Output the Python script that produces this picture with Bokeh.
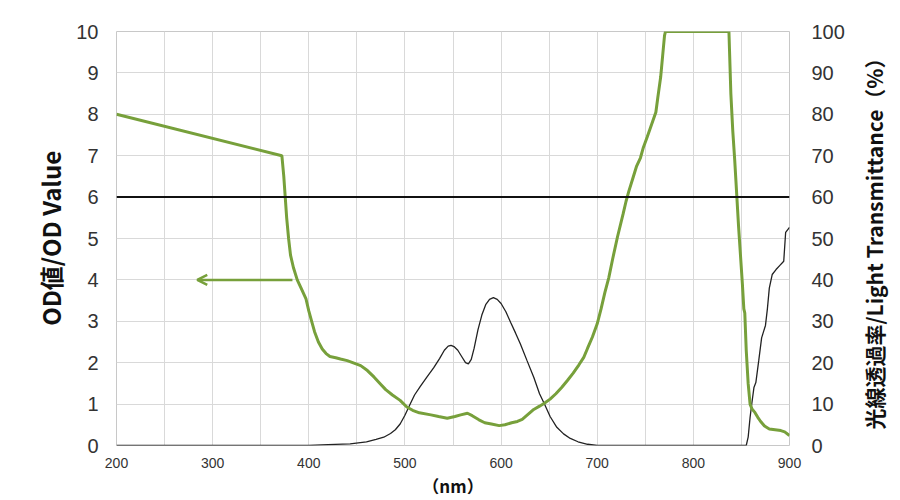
import math
from bokeh.plotting import figure
from bokeh.layouts import row
from bokeh.models import Range1d, LinearAxis, FixedTicker, Span, Arrow, OpenHead, Label
from bokeh.embed import file_html
from bokeh.resources import INLINE

# OD curve (left axis)
od_nm = [200, 372, 374, 375.5, 377, 379, 381, 384, 388, 392, 397, 400, 403, 406, 410, 414, 418, 422, 428,
         433, 440, 447, 454, 461, 468, 474, 480, 487, 495, 502, 508, 515, 527, 535, 544, 552, 558, 565,
         570, 577, 583, 590, 598, 604, 611, 617, 622, 628, 634, 640, 645, 651, 657, 663, 669, 675, 681,
         686, 690, 695, 700, 704, 708, 712, 716, 721, 727, 730, 733, 737, 741, 745, 748, 752, 755, 758,
         761, 763, 766, 768, 770, 771, 837, 839, 841, 843, 845, 847, 849, 851, 852.5, 853.5, 855, 857,
         859, 861, 864, 867, 870, 874, 879, 885, 891, 895, 900]
od_val = [8.0, 7.0, 6.5, 6.0, 5.5, 5.0, 4.6, 4.3, 4.0, 3.8, 3.55, 3.25, 3.0, 2.75, 2.5, 2.33, 2.22, 2.15, 2.12,
          2.09, 2.05, 1.99, 1.93, 1.81, 1.65, 1.5, 1.35, 1.22, 1.09, 0.93, 0.85, 0.79, 0.74, 0.70, 0.66, 0.70, 0.74, 0.78,
          0.72, 0.62, 0.55, 0.52, 0.48, 0.50, 0.55, 0.58, 0.63, 0.75, 0.87, 0.95, 1.02, 1.12, 1.25, 1.40, 1.57, 1.75, 1.95,
          2.13, 2.35, 2.62, 2.94, 3.3, 3.7, 4.05, 4.5, 5.03, 5.6, 5.9, 6.15, 6.45, 6.75, 6.95, 7.2, 7.45, 7.65, 7.85,
          8.05, 8.4, 8.9, 9.4, 9.9, 10.0, 10.0, 8.5, 7.6, 6.9, 6.1, 5.3, 4.6, 3.9, 3.3, 3.2, 2.3, 1.5,
          1.0, 0.88, 0.80, 0.68, 0.58, 0.47, 0.40, 0.38, 0.36, 0.33, 0.24]

# Light transmittance curve (right axis, %)
tr_nm = [200, 400, 420, 443, 460, 470, 478, 485, 490, 495, 500, 505, 510, 516, 523, 530, 536, 541, 545, 548,
         551, 555, 559, 563, 566, 569, 572, 576, 580, 584, 588, 592, 596, 600, 605, 610, 615, 620, 627, 634,
         640, 645, 651, 658, 665, 672, 680, 690, 700, 855, 857, 859, 861, 863, 865, 868, 871, 873, 875, 877,
         879, 882, 886, 890, 894, 896, 900]
tr_val = [0, 0, 0.2, 0.4, 0.9, 1.5, 2.0, 2.9, 3.8, 5.2, 7.3, 9.8, 12.2, 14.3, 16.6, 18.8, 21.0, 23.0, 24.0, 24.2,
          23.9, 23.0, 21.5, 20.0, 19.7, 20.8, 23.5, 28.0, 31.5, 34.0, 35.3, 35.7, 35.3, 34.3, 32.3, 29.7, 27.2, 24.6, 20.5, 16.5,
          12.5, 10.1, 7.0, 4.4, 2.8, 1.7, 0.9, 0.3, 0, 0, 2.0, 6.8, 10.5, 14.0, 15.2, 20.5, 26.0, 27.5, 29.0, 33.0,
          38.0, 41.3, 42.5, 43.5, 44.5, 51.5, 52.7]

x_ticks = [200, 300, 400, 500, 600, 700, 800, 900]
x_grid = [250, 300, 350, 400, 450, 500, 550, 600, 650, 700, 750, 800, 850]
od_ticks = list(range(0, 11))
tr_ticks = list(range(0, 101, 10))
od_limit = 6
arrow_x = [383, 284]
arrow_y = 4

left_title = "OD値/OD Value"
right_title = "光線透過率/Light Transmittance（%）"
x_title = "（nm）"

FONT = "Liberation Sans, Arial, Noto Sans CJK JP"
TITLE_FONT = "Noto Sans CJK JP"
GREEN = "#77a03b"

p = figure(frame_width=673, frame_height=414, output_backend="svg", toolbar_location=None,
           x_range=Range1d(200, 900), y_range=Range1d(0, 10),
           min_border_left=116, min_border_right=60, min_border_top=31, min_border_bottom=50)
p.background_fill_color = "white"
p.outline_line_color = "#c8c8c8"
p.outline_line_width = 1

p.extra_y_ranges = {"tr": Range1d(0, 100)}

# grids
p.xgrid.ticker = FixedTicker(ticks=x_grid)
p.ygrid.ticker = FixedTicker(ticks=od_ticks)
for g in (p.xgrid, p.ygrid):
    g.grid_line_color = "#d9d9d9"
    g.grid_line_width = 1

# axes
p.xaxis.ticker = FixedTicker(ticks=x_ticks)
p.yaxis.ticker = FixedTicker(ticks=od_ticks)
p.xaxis.axis_label = x_title
p.yaxis.axis_label = left_title

right = LinearAxis(y_range_name="tr", ticker=FixedTicker(ticks=tr_ticks))
p.add_layout(right, "right")

for ax in (p.xaxis[0], p.yaxis[0], right):
    ax.axis_line_color = None
    ax.major_tick_line_color = None
    ax.minor_tick_line_color = None
    ax.major_label_text_font = FONT
    ax.major_label_text_color = "#333333"
    ax.axis_label_text_font = TITLE_FONT
    ax.axis_label_text_font_style = "bold"
    ax.axis_label_text_color = "#111111"

p.xaxis.major_label_text_font_size = "14px"
p.xaxis.major_label_standoff = 6
p.xaxis.axis_label_text_font_size = "17px"
p.xaxis.axis_label_standoff = 2
p.yaxis.major_label_text_font_size = "20px"
p.yaxis.major_label_standoff = 12
p.yaxis.axis_label_text_font_size = "24px"
p.yaxis.axis_label_standoff = 5
right.major_label_text_font_size = "20px"
right.major_label_standoff = 16

# OD 6 reference line
p.add_layout(Span(location=od_limit, dimension="width", line_color="#111111", line_width=2))

# curves
p.line(tr_nm, tr_val, y_range_name="tr", line_color="#222222", line_width=1.3)
p.line(od_nm, od_val, line_color=GREEN, line_width=3)

# arrow
p.add_layout(Arrow(x_start=arrow_x[0], y_start=arrow_y, x_end=arrow_x[1], y_end=arrow_y,
                   line_color=GREEN, line_width=2.5,
                   end=OpenHead(size=10, line_color=GREEN, line_width=2.5)))

# right-hand title panel (reads bottom to top, like the reference)
t = figure(frame_width=48, frame_height=414, output_backend="svg", toolbar_location=None,
           x_range=Range1d(0, 1), y_range=Range1d(0, 1),
           min_border_left=0, min_border_right=0, min_border_top=31, min_border_bottom=50)
t.axis.visible = False
t.grid.visible = False
t.outline_line_color = None
t.add_layout(Label(x=0.5, y=0.5, text=right_title, angle=math.pi / 2,
                   text_align="center", text_baseline="middle",
                   text_font=TITLE_FONT, text_font_style="bold", text_font_size="21px",
                   text_color="#111111"))

layout = row(p, t, spacing=0)
open("out.html", "w").write(file_html(layout, INLINE))
